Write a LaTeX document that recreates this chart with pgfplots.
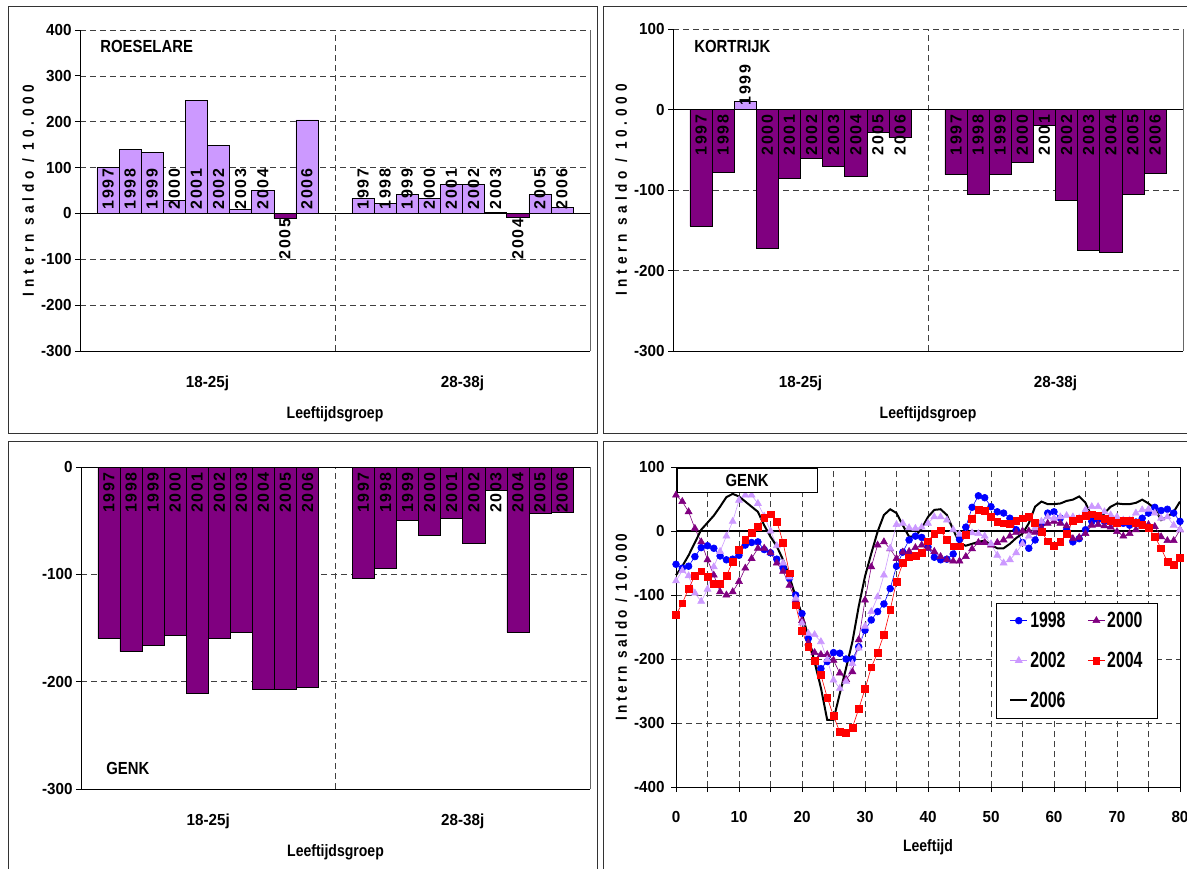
\documentclass[border=0pt]{standalone}
\usepackage{fontspec}
\setmainfont{Liberation Sans}
\newfontfamily\cb{Liberation Sans Bold}[FakeStretch=0.95]
\newfontfamily\ct{Liberation Sans Bold}[FakeStretch=0.85]
\newfontfamily\cbyl{Liberation Sans Bold}[FakeStretch=0.85, LetterSpace=30]
\newfontfamily\cbyll{Liberation Sans Bold}[FakeStretch=0.85, LetterSpace=21]
\newfontfamily\cblab{Liberation Sans Bold}[LetterSpace=10]
\newfontfamily\cbleg{Liberation Sans Bold}[FakeStretch=0.72]
\usepackage{pgfplots}
\usepackage{pgfplotstable}
\pgfplotsset{compat=1.18}
\definecolor{lpur}{HTML}{CC99FF}
\definecolor{dpur}{HTML}{800080}
\newcommand\tf{\cb\fontsize{16}{18}\selectfont}

\pgfplotstableread{
cat year v
0 1997 101
0 1998 139
0 1999 133
0 2000 28
0 2001 246
0 2002 149
0 2003 9
0 2004 50
0 2005 -11
0 2006 204
1 1997 33
1 1998 22
1 1999 42
1 2000 32
1 2001 63
1 2002 63
1 2003 2
1 2004 -9
1 2005 41
1 2006 13
}\roes

\pgfplotstableread{
cat year v
0 1997 -145
0 1998 -78
0 1999 10
0 2000 -172
0 2001 -86
0 2002 -60
0 2003 -71
0 2004 -83
0 2005 -28
0 2006 -34
1 1997 -81
1 1998 -105
1 1999 -81
1 2000 -65
1 2001 -20
1 2002 -113
1 2003 -175
1 2004 -178
1 2005 -105
1 2006 -79
}\kort

\pgfplotstableread{
cat year v
0 1997 -160
0 1998 -172
0 1999 -166
0 2000 -157
0 2001 -211
0 2002 -160
0 2003 -154
0 2004 -207
0 2005 -207
0 2006 -205
1 1997 -104
1 1998 -94
1 1999 -50
1 2000 -64
1 2001 -48
1 2002 -71
1 2003 -22
1 2004 -154
1 2005 -43
1 2006 -42
}\genkbar

\pgfplotstableread{
age y1998 y2000 y2002 y2004 y2006
0 -52 56 -78 -131 -69
1 -58 46 -62 -113 -55
2 -55 30 -70 -90 -38
3 -40 4 -97 -70 -18
4 -26 -17 -110 -63 2
5 -23 -45 -91 -71 13
6 -27 -69 -56 -83 24
7 -39 -95 -32 -83 38
8 -45 -100 -8 -70 53
9 -44 -95 15 -48 58
10 -38 -79 48 -29 54
11 -22 -58 56 -14 46
12 -18 -43 56 -3 38
13 -17 -27 43 7 30
14 -29 -27 23 21 9
15 -34 -34 0 26 -9
16 -44 -50 -23 15 -24
17 -58 -63 -50 -18 -45
18 -74 -85 -72 -66 -71
19 -100 -108 -105 -116 -103
20 -129 -140 -144 -156 -130
21 -168 -175 -160 -181 -165
22 -204 -190 -162 -203 -205
23 -215 -193 -173 -225 -245
24 -204 -193 -201 -260 -295
25 -190 -202 -233 -289 -295
26 -191 -222 -246 -314 -254
27 -200 -232 -235 -315 -214
28 -200 -220 -207 -307 -173
29 -181 -170 -183 -278 -118
30 -155 -108 -149 -247 -71
31 -139 -56 -126 -213 -35
32 -126 -22 -103 -190 -1
33 -114 -17 -69 -162 25
34 -90 -28 -27 -123 34
35 -55 -43 10 -79 28
36 -33 -33 12 -50 9
37 -14 -32 5 -41 -9
38 -8 -26 4 -39 -8
39 -10 -22 6 -34 4
40 -25 -27 12 -16 22
41 -41 -32 22 -4 33
42 -45 -40 22 1 34
43 -44 -45 17 -14 25
44 -36 -47 2 -24 2
45 -13 -47 -5 -24 -19
46 6 -40 -6 -6 -23
47 37 -28 -3 19 -20
48 55 -18 -4 33 -17
49 52 -18 -8 31 -15
50 38 -22 -20 22 -22
51 30 -18 -38 15 -27
52 28 -14 -50 12 -27
53 20 -8 -45 11 -20
54 2 -2 -34 16 -11
55 -18 0 -20 20 -4
56 -27 0 -8 22 12
57 -14 -2 5 13 38
58 12 5 15 -1 46
59 28 12 22 -16 42
60 30 15 20 -23 42
61 20 12 22 -17 43
62 2 8 24 -4 47
63 -17 -12 22 16 49
64 -12 -10 20 19 54
65 2 -4 33 24 44
66 15 9 38 26 22
67 18 10 38 24 13
68 15 8 30 19 28
69 14 6 25 16 38
70 14 -1 22 13 43
71 12 -8 17 16 42
72 9 -4 17 16 42
73 14 2 28 13 44
74 20 8 33 10 49
75 28 10 34 5 43
76 37 7 28 -9 35
77 32 -9 20 -27 17
78 34 -15 22 -48 22
79 28 -15 9 -53 30
80 15 2 2 -42 46
}\genkline

\pgfplotsset{
  barpanel/.style={
    scale only axis, width=510pt, height=321pt,
    axis lines*=left, axis line style={black, line width=0.8pt},
    xmin=-0.5, xmax=1.5,
    xtick={0,1}, xticklabels={18-25j,28-38j},
    x tick style={draw=none},
    xticklabel style={yshift=-16pt},
    extra x ticks={0.5}, extra x tick labels={},
    extra x tick style={grid=major, tick style={draw=none}},
    ytick distance=100, ymajorgrids,
    major grid style={black!75, dash pattern=on 6pt off 4pt, line width=0.6pt},
    ytick pos=left, tick align=outside, major tick length=5pt,
    y tick style={black, line width=0.8pt},
    tick label style={font=\tf},
    /pgf/number format/assume math mode=true,
    xlabel={Leeftijdsgroep}, xlabel style={font=\ct\fontsize{16.5}{18}\selectfont, yshift=1pt},
    ylabel style={font=\cbyl\fontsize{16}{18}\selectfont},
    clip=false,
  },
  barpos/.style={ybar, bar shift=0pt, bar width=0.0867, fill=lpur, draw=black, line width=0.6pt, restrict y to domain=0:1000},
  barneg/.style={ybar, bar shift=0pt, bar width=0.0867, fill=dpur, draw=black, line width=0.6pt, restrict y to domain=-1000:0},
  lab/.style n args={2}{draw=none, mark=none, nodes near coords, point meta=explicit symbolic,
    every node near coord/.style={rotate=90, anchor=#1, font=\cblab\fontsize{16}{18}\selectfont, inner sep=#2, black}},
}

\begin{document}
\begin{tikzpicture}
\path[use as bounding box] (0pt,0pt) rectangle (1187pt,-869pt);
\draw[black!80, line width=0.8pt] (8pt,-6pt) rectangle (597pt,-433pt);
\draw[black!80, line width=0.8pt] (1200pt,-6pt) -- (603pt,-6pt) -- (603pt,-433pt) -- (1200pt,-433pt);
\draw[black!80, line width=0.8pt] (8pt,-880pt) -- (8pt,-441pt) -- (597pt,-441pt) -- (597pt,-880pt);
\draw[black!80, line width=0.8pt] (1200pt,-441pt) -- (603pt,-441pt) -- (603pt,-880pt);

% ROESELARE
\begin{axis}[barpanel, at={(80pt,-351pt)}, anchor=south west,
  ymin=-300, ymax=400, ylabel={Intern saldo / 10.000}]
  \draw[black!60] (rel axis cs:1,0) -- (rel axis cs:1,1);
  \draw[black, line width=0.6pt] (axis cs:-0.5,0) -- (axis cs:1.5,0);
  \addplot[barpos] table[x expr={\thisrow{cat}+(\thisrow{year}-2001.5)*0.0867}, y=v]{\roes};
  \addplot[barneg] table[x expr={\thisrow{cat}+(\thisrow{year}-2001.5)*0.0867}, y=v]{\roes};
  \addplot[lab={west}{4pt}, restrict y to domain=0:1] table[x expr={\thisrow{cat}+(\thisrow{year}-2001.5)*0.0867}, y expr={\thisrow{v}>0 ? 0.001 : -0.001}, meta=year]{\roes};
  \addplot[lab={east}{5pt}, restrict y to domain=-1:0] table[x expr={\thisrow{cat}+(\thisrow{year}-2001.5)*0.0867}, y expr={\thisrow{v}>0 ? 0.001 : -0.001}, meta=year]{\roes};
  \node[anchor=west, font=\ct\fontsize{17.5}{19}\selectfont] at (rel axis cs:0.033,0.95) {ROESELARE};
\end{axis}

% KORTRIJK
\begin{axis}[barpanel, at={(673pt,-351pt)}, anchor=south west, height=322pt,
  ymin=-300, ymax=100, ylabel={Intern saldo / 10.000}]
  \draw[black!60] (rel axis cs:1,0) -- (rel axis cs:1,1);
  \draw[black, line width=0.6pt] (axis cs:-0.5,0) -- (axis cs:1.5,0);
  \addplot[barpos] table[x expr={\thisrow{cat}+(\thisrow{year}-2001.5)*0.0867}, y=v]{\kort};
  \addplot[barneg] table[x expr={\thisrow{cat}+(\thisrow{year}-2001.5)*0.0867}, y=v]{\kort};
  \addplot[lab={west}{4pt}, restrict y to domain=0:1] table[x expr={\thisrow{cat}+(\thisrow{year}-2001.5)*0.0867}, y expr={\thisrow{v}>0 ? 0.001 : -0.001}, meta=year]{\kort};
  \addplot[lab={east}{5pt}, restrict y to domain=-1:0] table[x expr={\thisrow{cat}+(\thisrow{year}-2001.5)*0.0867}, y expr={\thisrow{v}>0 ? 0.001 : -0.001}, meta=year]{\kort};
  \node[anchor=west, font=\ct\fontsize{17.5}{19}\selectfont] at (rel axis cs:0.035,0.947) {KORTRIJK};
\end{axis}

% GENK bars
\begin{axis}[barpanel, at={(81pt,-789pt)}, anchor=south west, width=509pt, height=322pt,
  ymin=-300, ymax=0]
  \draw[black!60] (rel axis cs:1,0) -- (rel axis cs:1,1);
  \draw[black, line width=0.6pt] (axis cs:-0.5,0) -- (axis cs:1.5,0);
  \addplot[barpos] table[x expr={\thisrow{cat}+(\thisrow{year}-2001.5)*0.0867}, y=v]{\genkbar};
  \addplot[barneg] table[x expr={\thisrow{cat}+(\thisrow{year}-2001.5)*0.0867}, y=v]{\genkbar};
  \addplot[lab={east}{5pt}, restrict y to domain=-1:0] table[x expr={\thisrow{cat}+(\thisrow{year}-2001.5)*0.0867}, y expr={\thisrow{v}>0 ? 0.001 : -0.001}, meta=year]{\genkbar};
  \node[anchor=west, font=\ct\fontsize{17.5}{19}\selectfont] at (rel axis cs:0.043,0.065) {GENK};
\end{axis}

% GENK lines
\begin{axis}[at={(676pt,-787pt)}, anchor=south west, scale only axis, width=504pt, height=320pt,
  xmin=0, xmax=80, ymin=-400, ymax=100,
  xtick={0,10,...,80}, minor xtick={5,15,...,75},
  ytick distance=100,
  grid=both,
  major grid style={black!75, dash pattern=on 6pt off 4pt, line width=0.6pt},
  minor grid style={black!75, dash pattern=on 6pt off 4pt, line width=0.6pt},
  axis line style={black, line width=0.8pt},
  tick align=outside, major tick length=5pt, minor tick length=5pt,
  xtick pos=bottom, ytick pos=left,
  tick style={black, line width=0.8pt},
  tick label style={font=\tf},
  xticklabel style={yshift=-16pt},
  yticklabel style={xshift=-3pt},
  /pgf/number format/assume math mode=true,
  xlabel={Leeftijd}, xlabel style={font=\ct\fontsize{16.5}{18}\selectfont, yshift=-10pt},
  ylabel={Intern saldo / 10.000}, ylabel style={font=\cbyll\fontsize{16}{18}\selectfont},
  legend columns=2,
  legend style={at={(0.635,0.575)}, anchor=north west, draw=black, fill=white,
    font=\cbleg\fontsize{22}{24}\selectfont, row sep=19pt, inner xsep=13pt, inner ysep=7pt,
    /tikz/every even column/.append style={column sep=20pt}},
  legend cell align=left,
  clip=false,
]
  \draw[black, line width=1.6pt] (axis cs:0,0) -- (axis cs:80,0);
  \addplot[blue, line width=0.6pt, mark=*, mark size=3.4pt, mark options={fill=blue, draw=blue}] table[x=age, y=y1998]{\genkline};
  \addlegendentry{1998}
  \addplot[dpur, line width=0.6pt, mark=triangle*, mark size=4pt, mark options={fill=dpur, draw=dpur}] table[x=age, y=y2000]{\genkline};
  \addlegendentry{2000}
  \addplot[lpur, line width=0.6pt, mark=triangle*, mark size=4pt, mark options={fill=lpur, draw=lpur}] table[x=age, y=y2002]{\genkline};
  \addlegendentry{2002}
  \addplot[red, line width=0.6pt, mark=square*, mark size=3.4pt, mark options={fill=red, draw=red}] table[x=age, y=y2004]{\genkline};
  \addlegendentry{2004}
  \addplot[black, line width=2pt, mark=none] table[x=age, y=y2006]{\genkline};
  \addlegendentry{2006}
\end{axis}
\node[draw=black, fill=white, line width=0.8pt, minimum width=140pt, minimum height=24pt, inner sep=0pt,
    font=\ct\fontsize{17.5}{19}\selectfont] at (747pt,-480pt) {GENK};
\end{tikzpicture}
\end{document}
